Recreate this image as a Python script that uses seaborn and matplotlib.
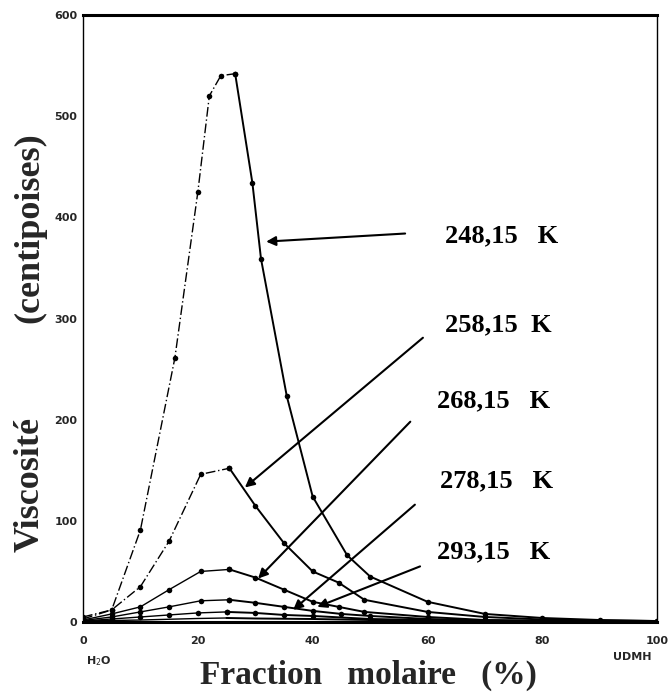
import matplotlib
matplotlib.use("Agg")
import matplotlib.pyplot as plt
import seaborn as sns
import pandas as pd

# ---- data ----
x_248 = [0, 5, 10, 16, 20, 22, 24, 26.5, 29.5, 31, 35.5, 40, 46, 50, 60, 70, 80, 90, 100]
y_248 = [5, 12, 91, 261, 425, 520, 540, 542, 434, 359, 223, 124, 66, 45, 20, 8, 4, 2, 1]

x_258 = [0, 5, 10, 15, 20.5, 25.5, 30, 35, 40, 44.5, 49, 60, 70, 80, 90, 100]
y_258 = [3, 12, 35, 80, 146, 152, 115, 78, 50, 39, 22, 10, 5, 2.5, 1.5, 1]

x_268 = [0, 5, 10, 15, 20.5, 25.5, 30, 35, 40, 44.5, 49, 60, 70, 80, 100]
y_268 = [2, 8, 15, 32, 50, 52, 44, 32, 20, 15, 10, 5, 2, 1, 0.5]

x_278 = [0, 5, 10, 15, 20.5, 25.5, 30, 35, 40, 45, 50, 60, 70, 100]
y_278 = [1.5, 5, 10, 15, 21, 22, 19, 15, 11, 8, 6, 3, 1.5, 0.5]

x_293 = [0, 5, 10, 15, 20, 25, 30, 35, 40, 50, 60, 100]
y_293 = [1, 3, 5, 7, 9, 10, 9, 7, 6, 3, 2, 0.3]

x_low = [0, 10, 20, 25, 30, 40, 50, 60, 100]
y_low = [1, 2, 3.5, 4, 3.5, 3, 2, 1, 0.2]

labels = ["248,15   K", "258,15  K", "268,15   K", "278,15   K", "293,15   K"]
label_xy = [(63.1, 382), (63.1, 294), (61.7, 219), (62.2, 140), (61.7, 69)]
arrow_tail = [(56.1, 384), (59.2, 281), (57.0, 198), (57.8, 116), (58.7, 55)]
arrow_head = [(31.9, 376), (28.2, 133), (30.5, 43), (36.6, 12), (40.8, 15)]

x_ticks = [0, 20, 40, 60, 80, 100]
y_ticks = [0, 100, 200, 300, 400, 500, 600]

sns.set_theme(style="white")
plt.rcParams["font.family"] = ["DejaVu Sans"]

fig = plt.figure(figsize=(6.72, 6.94), dpi=100)
ax = fig.add_axes([0.1235, 0.1037, 0.8545, 0.8747])

series = [(x_248, y_248, 4), (x_258, y_258, 4), (x_268, y_268, 4),
          (x_278, y_278, 4), (x_293, y_293, 4), (x_low, y_low, 0)]
for xs, ys, ms in series:
    df = pd.DataFrame({"x": xs, "y": ys})
    ip = ys.index(max(ys))
    rise = df.iloc[: ip + 1]
    fall = df.iloc[ip:]
    sns.lineplot(data=rise, x="x", y="y", ax=ax, color="black", lw=1.0,
                 linestyle=(0, (7, 2, 1, 2)) if max(ys) > 100 else "-",
                 marker="o" if ms else None, markersize=ms, markeredgewidth=0,
                 sort=False, estimator=None)
    sns.lineplot(data=fall, x="x", y="y", ax=ax, color="black", lw=1.4,
                 marker="o" if ms else None, markersize=ms, markeredgewidth=0,
                 sort=False, estimator=None)

for lab, (lx, ly), t, h in zip(labels, label_xy, arrow_tail, arrow_head):
    ax.text(lx, ly, lab, fontsize=19, fontweight="bold", family="Liberation Serif",
            ha="left", va="center", color="black")
    ax.annotate("", xy=h, xytext=t,
                arrowprops=dict(arrowstyle="-|>", color="black", lw=1.5,
                                mutation_scale=14, shrinkA=0, shrinkB=0))

ax.set_xlim(0, 100)
ax.set_ylim(0, 600)
ax.set_xlabel("")
ax.set_ylabel("")
ax.set_xticks(x_ticks)
ax.set_yticks(y_ticks)
ax.set_xticklabels([str(v) for v in x_ticks], fontsize=8, fontweight="bold")
ax.set_yticklabels([str(v) for v in y_ticks], fontsize=8, fontweight="bold")
ax.tick_params(axis="both", direction="in", length=5, width=1.2, color="black", pad=4)
ax.tick_params(axis="x", length=0, pad=10)

for side, lw in [("top", 2.2), ("bottom", 2.2), ("left", 1.0), ("right", 1.0)]:
    ax.spines[side].set_visible(True)
    ax.spines[side].set_color("black")
    ax.spines[side].set_linewidth(lw)

# axis titles
fig.text(0.548, 1 - 675 / 694, "Fraction   molaire   (%)", fontsize=24, fontweight="bold",
         family="Liberation Serif", ha="center", va="center")
fig.text(0.045, 1 - 484 / 694, "Viscosité", fontsize=26, fontweight="bold",
         family="Liberation Serif", ha="center", va="center", rotation=90)
fig.text(0.045, 1 - 228 / 694, "(centipoises)", fontsize=26, fontweight="bold",
         family="Liberation Serif", ha="center", va="center", rotation=90)

ax.text(0.005, -0.064, "H$_2$O", transform=ax.transAxes, fontsize=8, fontweight="bold",
        ha="left", va="center")
ax.text(0.99, -0.058, "UDMH", transform=ax.transAxes, fontsize=8, fontweight="bold",
        ha="right", va="center")

fig.savefig("out.png", dpi=100)
